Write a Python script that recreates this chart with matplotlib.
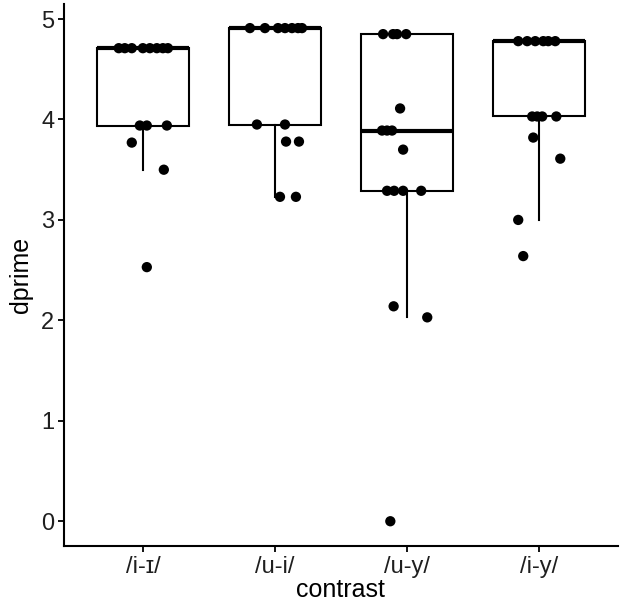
import matplotlib
matplotlib.use('Agg')
import matplotlib.pyplot as plt

plt.rcParams['font.family'] = ['Liberation Sans', 'DejaVu Sans']

# --- categories ---
contrasts = ['/i-ɪ/', '/u-i/', '/u-y/', '/i-y/']

# --- box statistics ---
q1 = [3.94, 3.95, 3.29, 4.03]
medians = [4.71, 4.91, 3.89, 4.78]
q3 = [4.71, 4.91, 4.85, 4.78]
whisker_lo = [3.50, 3.23, 2.03, 3.00]
whisker_hi = [4.71, 4.91, 4.85, 4.78]

# --- individual dprime values per contrast ---
dprime_i_I = [4.71, 4.71, 4.71, 4.71, 4.71, 4.71, 4.71, 4.71, 3.94, 3.94, 3.94, 3.77, 3.50, 2.53]
dprime_u_i = [4.91, 4.91, 4.91, 4.91, 4.91, 4.91, 4.91, 3.95, 3.95, 3.78, 3.78, 3.23, 3.23]
dprime_u_y = [4.85, 4.85, 4.85, 4.85, 4.11, 3.89, 3.89, 3.89, 3.70, 3.29, 3.29, 3.29, 3.29, 2.14, 2.03, 0.00]
dprime_i_y = [4.78, 4.78, 4.78, 4.78, 4.78, 4.78, 4.03, 4.03, 4.03, 4.03, 3.82, 3.61, 3.00, 2.64]

# --- horizontal jitter of each point (as seen in the chart) ---
jitter_i_I = [-0.185, -0.139, -0.086, -0.002, 0.051, 0.104, 0.150, 0.188, -0.025, 0.028, 0.180, -0.086, 0.157, 0.028]
jitter_u_i = [-0.190, -0.076, 0.023, 0.076, 0.129, 0.175, 0.205, -0.137, 0.076, 0.084, 0.182, 0.038, 0.159]
jitter_u_y = [-0.180, -0.104, -0.074, -0.005, -0.051, -0.188, -0.150, -0.112, -0.028, -0.150, -0.096, -0.028, 0.109, -0.100, 0.155, -0.125]
jitter_i_y = [-0.155, -0.087, -0.026, 0.035, 0.073, 0.126, -0.049, -0.011, 0.027, 0.134, -0.041, 0.164, -0.155, -0.117]

values = [dprime_i_I, dprime_u_i, dprime_u_y, dprime_i_y]
jitters = [jitter_i_I, jitter_u_i, jitter_u_y, jitter_i_y]

fig = plt.figure(figsize=(6.24, 6.14), dpi=100)
ax = fig.add_axes([0.1026, 0.111, 0.8874, 0.8825])

stats = []
for i in range(len(contrasts)):
    stats.append({'q1': q1[i], 'med': medians[i], 'q3': q3[i],
                  'whislo': whisker_lo[i], 'whishi': whisker_hi[i],
                  'fliers': [], 'label': contrasts[i]})

ax.bxp(stats, positions=range(1, 5), widths=0.7, showcaps=False,
       showfliers=False, patch_artist=True,
       boxprops=dict(facecolor='white', edgecolor='black', linewidth=1.5),
       whiskerprops=dict(color='black', linewidth=1.5),
       medianprops=dict(color='black', linewidth=3.0, solid_capstyle='butt'))

for i, (vals, jit) in enumerate(zip(values, jitters)):
    xs = [i + 1 + j for j in jit]
    ax.scatter(xs, vals, s=55, color='black', edgecolors='none', zorder=3)

ax.set_xlim(0.4, 4.6)
ax.set_ylim(-0.245, 5.15)
ax.set_xticks(range(1, 5))
ax.set_xticklabels(contrasts)
ax.set_yticks([0, 1, 2, 3, 4, 5])

for side in ['top', 'right']:
    ax.spines[side].set_visible(False)
for side in ['left', 'bottom']:
    ax.spines[side].set_linewidth(1.5)
ax.tick_params(axis='both', length=4, width=1.3, labelsize=17,
               labelcolor='#1f1f1f', pad=3)

ax.set_xlabel('contrast', fontsize=18, labelpad=0)
ax.set_ylabel('dprime', fontsize=18, labelpad=6)

fig.savefig('out.png', dpi=100, facecolor='white')
